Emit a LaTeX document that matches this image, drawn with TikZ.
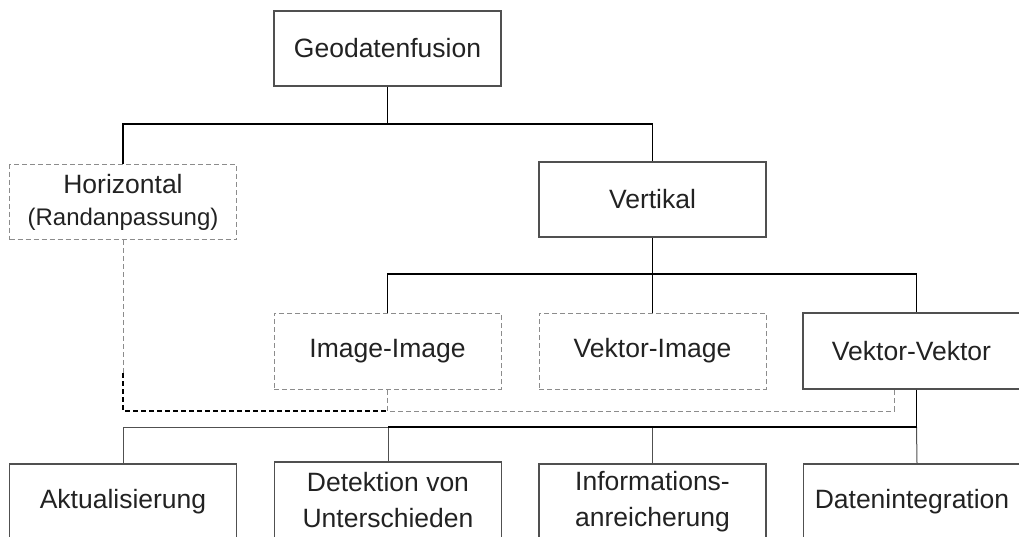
\documentclass[tikz,border=0pt]{standalone}
\usepackage{fontspec}
\setmainfont{Liberation Sans}
\usepackage{tikz}
\usetikzlibrary{calc}
\definecolor{rahmen}{HTML}{505050}
\definecolor{strich}{HTML}{8C8C8C}
\definecolor{schrift}{HTML}{222222}
\tikzset{
box/.style={draw=rahmen,line width=1.2pt,minimum width=227pt,minimum height=75pt,inner sep=0pt,align=center,text=schrift,font=\fontsize{26.5}{36}\selectfont},
dbox/.style={box,draw=strich,line width=1pt,dash pattern=on 5pt off 3pt},
gdash/.style={draw=strich,line width=1pt,dash pattern=on 5pt off 3pt},
bdash/.style={draw=black,line width=1.6pt,dash pattern=on 5pt off 3pt},
ast/.style={draw=black,line width=1.1pt},
dast/.style={draw=rahmen,line width=1pt}
}
\begin{document}
\begin{tikzpicture}[x=1pt,y=-1pt]
\useasboundingbox (0,0) rectangle (1019,536);
\node[box](geo) at (387.5,48.5) {Geodatenfusion};
\node[dbox](hor) at (123,202) {Horizontal\\[-4pt]{\fontsize{24}{30}\selectfont(Randanpassung)}};
\node[box](ver) at (652.5,199.5) {Vertikal};
\node[dbox,minimum height=76pt](ii) at (387.5,351) {Image-Image};
\node[dbox,minimum height=76pt](vi) at (652.5,351) {Vektor-Image};
\node[box,minimum height=76pt](vv) at (916.5,351) {\hspace*{-10pt}Vektor-Vektor};
\node[box,minimum height=76pt](akt) at (123,502) {Aktualisierung};
\node[box,minimum height=76pt](det) at (388,500) {Detektion von\\Unterschieden};
\node[box,minimum height=76pt](inf) at (652.5,502) {Informations-\\anreicherung};
\node[box,minimum height=76pt](dat) at (917,502) {\hspace*{-10pt}Datenintegration};
\coordinate (j1) at (387.5,124);
\coordinate (j2) at (652.5,274);
\coordinate (j3) at (916.5,427);
\coordinate (dy) at (0,411);
\coordinate (hb) at (123,373);
\coordinate (vvin) at (894,389);
\draw[ast] (geo.south) -- (j1);
\draw[ast] (hor.north) |- (j1) -| (ver.north);
\draw[ast] (ver.south) -- (j2);
\draw[ast] (ii.north) |- (j2) -| (vv.north);
\draw[ast] (vi.north) -- (vi.north|-j2);
\draw[gdash] (hor.south) -- (hb);
\draw[bdash] (hb) -- (hb|-dy) -- (ii.south|-dy);
\draw[gdash] (ii.south) -- (ii.south|-dy) -| (vvin);
\draw[dast] (akt.north) |- (det.north|-j3) -- (det.north);
\draw[dast] (inf.north) -- (inf.north|-j3);
\draw[dast] (dat.north) -- (j3);
\draw[ast,line width=1.6pt] (vv.south) -- (j3) -- (det.north|-j3);
\end{tikzpicture}
\end{document}
